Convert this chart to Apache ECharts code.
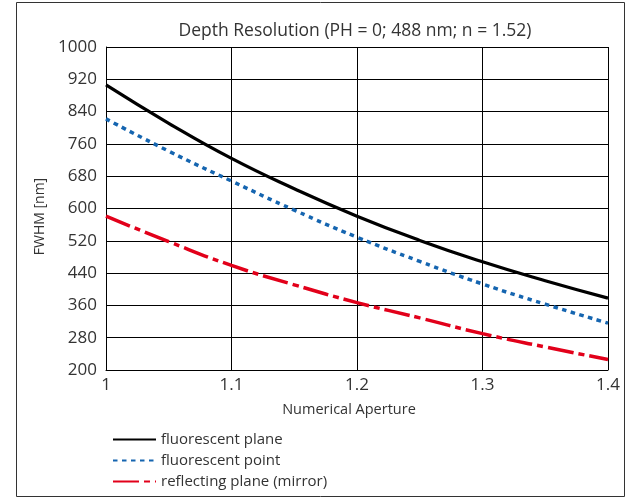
<!DOCTYPE html>
<html>
<head>
<meta charset="utf-8">
<script src="https://cdn.jsdelivr.net/npm/echarts@6/dist/echarts.min.js"></script>
<style>html,body{margin:0;padding:0;background:#fff;}#c{width:629px;height:499px;}</style>
</head>
<body>
<div id="c"></div>
<script>
var apertures = [1.0, 1.05, 1.1, 1.15, 1.2, 1.25, 1.3, 1.35, 1.4];
var fluorescentPlane = [906, 811, 724, 649, 581, 521, 468, 421, 378];
var fluorescentPoint = [822, 742, 668, 596, 529, 469, 413, 363, 316];
var reflectingPlane = [581, 518, 459, 411, 367, 329, 290, 257, 226];
var yTicks = [200, 280, 360, 440, 520, 600, 680, 760, 840, 920, 1000];
var xTicks = [1, 1.1, 1.2, 1.3, 1.4];
var seriesNames = ['fluorescent plane', 'fluorescent point', 'reflecting plane (mirror)'];
var titleText = 'Depth Resolution (PH = 0; 488 nm; n = 1.52)';

var yBase = yTicks[0];
function pairs(vals) {
  return apertures.map(function (a, i) { return [a, vals[i] - yBase]; });
}
var FONT = '"Open Sans", "Noto Sans", sans-serif';
var chart = echarts.init(document.getElementById('c'), null, {renderer: 'canvas'});
chart.setOption({
  animation: false,
  backgroundColor: '#fff',
  textStyle: {fontFamily: FONT},
  graphic: [
    {type: 'rect', shape: {x: 16.5, y: 2.5, width: 608, height: 494}, style: {fill: 'none', stroke: '#333', lineWidth: 1}, z: 100},
    {type: 'text', x: 355, y: 31, style: {text: titleText, font: '17.5px ' + FONT, fill: '#333', textAlign: 'center', textVerticalAlign: 'middle'}}
  ],
  grid: {left: 106, right: 21, top: 47, bottom: 129, containLabel: false},
  xAxis: {
    type: 'value', min: xTicks[0], max: xTicks[xTicks.length - 1], interval: 0.1,
    name: 'Numerical Aperture', nameLocation: 'middle', nameGap: 32,
    nameTextStyle: {fontSize: 14.5, color: '#333', fontFamily: FONT, padding: [0, 16, 0, 0]},
    axisLine: {show: true, lineStyle: {color: '#000', width: 1}},
    axisTick: {show: false},
    axisLabel: {fontSize: 17, color: '#333', margin: 7, fontFamily: FONT,
      formatter: function (v) { return String(Math.round(v * 10) / 10); }},
    splitLine: {show: true, lineStyle: {color: '#000', width: 1}}
  },
  yAxis: {
    type: 'value', min: 0, max: yTicks[yTicks.length - 1] - yBase, interval: 80,
    name: 'FWHM [nm]', nameLocation: 'middle', nameGap: 57,
    nameTextStyle: {fontSize: 14, color: '#333', fontFamily: FONT, padding: [0, 16, 0, 0]},
    axisLine: {show: true, lineStyle: {color: '#000', width: 1}},
    axisTick: {show: false},
    axisLabel: {fontSize: 17, color: '#333', margin: 9, fontFamily: FONT,
      formatter: function (v) { return String(v + yBase); }},
    splitLine: {show: true, lineStyle: {color: '#000', width: 1}}
  },
  legend: {
    orient: 'vertical', left: 107, top: 427, itemWidth: 43, itemHeight: 14, itemGap: 6,
    textStyle: {fontSize: 15, color: '#333', fontFamily: FONT},
    itemStyle: {opacity: 0},
    data: seriesNames
  },
  series: [
    {name: seriesNames[0], type: 'line', smooth: true, symbol: 'none', data: pairs(fluorescentPlane),
      lineStyle: {color: '#000', width: 3.2}, itemStyle: {color: '#000'}, z: 3},
    {name: seriesNames[1], type: 'line', smooth: true, symbol: 'none', data: pairs(fluorescentPoint),
      lineStyle: {color: '#1565b0', width: 3.5, type: [4.5, 4.5]}, itemStyle: {color: '#1565b0'}, z: 2},
    {name: seriesNames[2], type: 'line', smooth: true, symbol: 'none', data: pairs(reflectingPlane),
      lineStyle: {color: '#e2001a', width: 3.5, type: [26, 5, 6, 5]}, itemStyle: {color: '#e2001a'}, z: 2}
  ]
});
</script>
</body>
</html>
